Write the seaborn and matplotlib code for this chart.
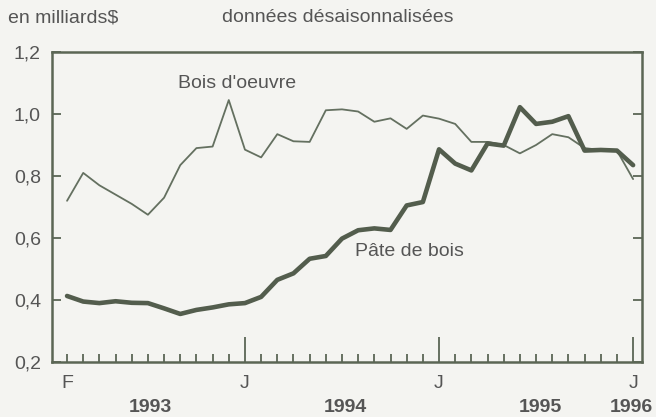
import matplotlib
matplotlib.use("Agg")
import matplotlib.pyplot as plt
import matplotlib.transforms as mtransforms
import seaborn as sns
import pandas as pd
import numpy as np

# ---- data (monthly, Feb 1993 .. Jan 1996), billions of $ ----
months = ["1993-02", "1993-03", "1993-04", "1993-05", "1993-06", "1993-07",
          "1993-08", "1993-09", "1993-10", "1993-11", "1993-12", "1994-01",
          "1994-02", "1994-03", "1994-04", "1994-05", "1994-06", "1994-07",
          "1994-08", "1994-09", "1994-10", "1994-11", "1994-12", "1995-01",
          "1995-02", "1995-03", "1995-04", "1995-05", "1995-06", "1995-07",
          "1995-08", "1995-09", "1995-10", "1995-11", "1995-12", "1996-01"]
bois_oeuvre = [0.72, 0.81, 0.77, 0.74, 0.71, 0.675,
               0.73, 0.835, 0.89, 0.895, 1.045, 0.885,
               0.86, 0.935, 0.912, 0.91, 1.012, 1.015,
               1.008, 0.975, 0.986, 0.952, 0.995, 0.985,
               0.968, 0.91, 0.91, 0.9, 0.873, 0.9,
               0.935, 0.925, 0.89, 0.884, 0.882, 0.79]
pate_bois = [0.413, 0.395, 0.39, 0.396, 0.391, 0.39,
             0.373, 0.355, 0.368, 0.376, 0.386, 0.39,
             0.41, 0.465, 0.486, 0.533, 0.542, 0.598,
             0.625, 0.631, 0.626, 0.705, 0.716, 0.886,
             0.84, 0.818, 0.905, 0.898, 1.022, 0.968,
             0.975, 0.993, 0.882, 0.884, 0.882, 0.835]
month_tick_labels = ["F", "J", "J", "J"]
month_tick_idx = [0, 11, 23, 35]
year_labels = ["1993", "1994", "1995", "1996"]
year_label_pos = [5.13, 17.2, 29.25, 34.9]
y_ticks = [0.2, 0.4, 0.6, 0.8, 1.0, 1.2]
y_tick_labels = ["0,2", "0,4", "0,6", "0,8", "1,0", "1,2"]

df = pd.DataFrame({"idx": np.arange(len(months)), "month": months,
                   "bois": bois_oeuvre, "pate": pate_bois})

sns.set_theme(style="white")
plt.rcParams["font.family"] = ["Liberation Sans", "DejaVu Sans"]

bg = "#f4f4f1"
txt = "#555555"
frame = "#5b6655"
fs = 14

fig = plt.figure(figsize=(6.56, 4.17), dpi=100, facecolor=bg)
ax = fig.add_axes([52/656, 1-362/417, (642-52)/656, (362-52)/417])
ax.set_facecolor(bg)

sns.lineplot(data=df, x="idx", y="bois", ax=ax, color="#647060", linewidth=1.3)
sns.lineplot(data=df, x="idx", y="pate", ax=ax, color="#535d4d", linewidth=3.3)

ax.set_xlim(-0.93, 35.55)
ax.set_ylim(0.2, 1.2)
ax.set_xlabel("")
ax.set_ylabel("")

# x ticks: each month minor, labelled major
ax.set_xticks(month_tick_idx)
ax.set_xticklabels(month_tick_labels)
ax.set_xticks(np.arange(len(months)), minor=True)
ax.tick_params(axis="x", which="major", direction="in", length=18, width=1.3,
               color=frame, labelsize=fs, labelcolor=txt, pad=9, bottom=True)
ax.tick_params(axis="x", which="minor", direction="in", length=6, width=1.3,
               color=frame, bottom=True)
# the first month (F) only carries a short tick
ax.xaxis.get_major_ticks()[0].tick1line.set_markersize(6)

ax.set_yticks(y_ticks)
ax.set_yticklabels(y_tick_labels)
ax.tick_params(axis="y", which="major", direction="in", length=6.5, width=1.3,
               color=frame, labelsize=fs, labelcolor=txt, pad=8,
               left=True, right=True)

for s in ax.spines.values():
    s.set_visible(True)
    s.set_color(frame)
    s.set_linewidth(1.8)

# year labels under the month labels
trans = mtransforms.blended_transform_factory(ax.transData, fig.transFigure)
for lab, pos in zip(year_labels, year_label_pos):
    ax.text(pos, 1 - 408/417, lab, transform=trans, ha="center", va="center",
            fontsize=fs, fontweight="bold", color=txt)

# series labels
ax.text(6.85, 1.1, "Bois d'oeuvre", fontsize=fs, color=txt, ha="left", va="center")
ax.text(17.8, 0.555, "Pâte de bois", fontsize=fs, color=txt, ha="left", va="center")

# headers
fig.text(8/656, 1 - 18/417, "en milliards$", fontsize=fs, color=txt, ha="left", va="center")
fig.text(222/656, 1 - 18/417, "données désaisonnalisées", fontsize=fs, color=txt,
         ha="left", va="center")

fig.savefig("out.png", dpi=100, facecolor=bg)
